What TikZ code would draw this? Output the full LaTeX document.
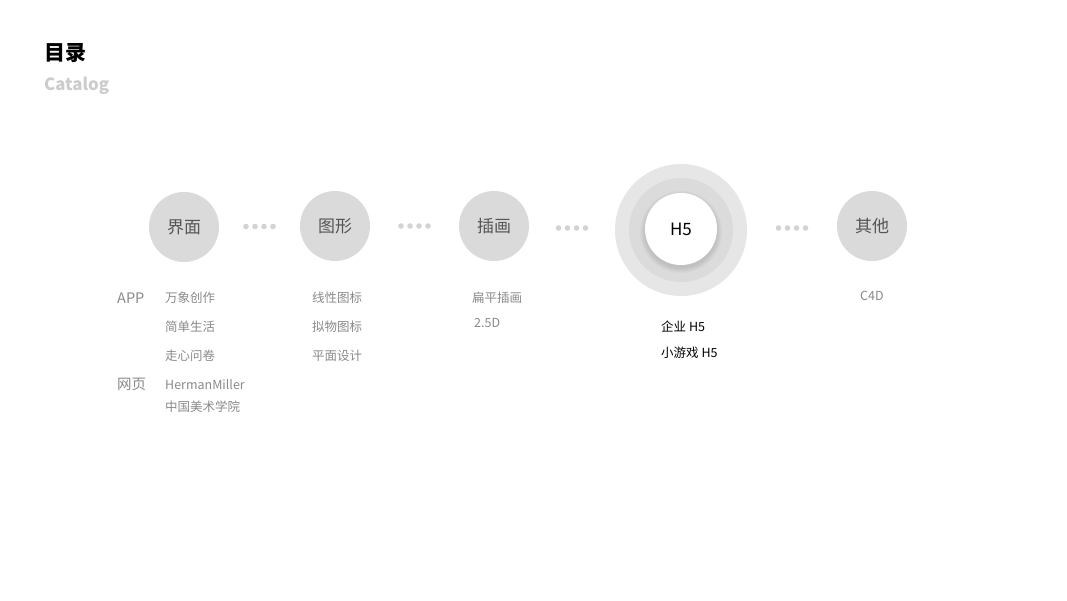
\documentclass[tikz,border=0pt]{standalone}
\usepackage{fontspec}
\setmainfont{Noto Sans CJK SC}
\usepackage{xcolor}
\usepackage{tikz}
\usetikzlibrary{calc}
\definecolor{CatDisc}{HTML}{DADADA}
\definecolor{CatRing}{HTML}{E6E6E6}
\definecolor{CatMid}{HTML}{DBDBDB}
\definecolor{CatDot}{HTML}{D3D3D3}
\definecolor{CatText}{HTML}{555555}
\definecolor{CatItem}{HTML}{8A8A8A}
\definecolor{CatSub}{HTML}{CCCCCC}

\begin{document}
\begin{tikzpicture}[x=1pt,y=-1pt,
  disc/.style={circle,fill=CatDisc,minimum size=70pt,inner sep=0pt,text=CatText,font=\fontsize{17}{20}\selectfont},
  item/.style={anchor=west,inner sep=0pt,text=CatItem,font=\fontsize{12.5}{15}\selectfont},
  kind/.style={anchor=west,inner sep=0pt,text=CatItem,font=\fontsize{14.5}{17}\selectfont},
  hitem/.style={anchor=west,inner sep=0pt,text=black,font=\fontsize{12.5}{15}\selectfont}]
\path[use as bounding box] (0,0) rectangle (1067,600);
\fill[white] (0,0) rectangle (1067,600);
\node[anchor=west,inner sep=0pt,font=\fontsize{21}{24}\selectfont\bfseries] (title) at (44,53) {目录};
\node[anchor=west,inner sep=0pt,text=CatSub,font=\fontsize{16.8}{20}\selectfont\bfseries] (subtitle) at (44,86) {Catalog};
\node[disc] (ui) at (184,227) {界面};
\node[disc] (icon) at (335,226) {图形};
\node[disc] (illu) at (494,226) {插画};
\node[circle,fill=CatRing,minimum size=132pt,inner sep=0pt] (ring) at (681,230) {};
\fill[CatMid] (ring.center) circle (52);
\foreach \k in {1,...,6}
  \fill[black,opacity=0.02] ($(ring.center)+(0,2)$) circle (35+\k);
\node[circle,fill=white,minimum size=72pt,inner sep=0pt,font=\fontsize{17}{20}\selectfont] (h5) at (681,229) {H5};
\node[disc] (misc) at (872,226) {其他};
\foreach \a/\b in {ui/icon,icon/illu,illu/ring,ring/misc}
  \foreach \i in {-1.5,-0.5,0.5,1.5}
    \fill[CatDot] ($(\a.east)!0.5!(\b.west)+(\i*9,0)$) circle (2.8);
\node[kind] (app) at (117,298) {APP};
\node[kind] (web) at (117,384) {网页};
\node[item] (ui1) at (165,298) {万象创作};
\node[item] (ui2) at (165,327) {简单生活};
\node[item] (ui3) at (165,356) {走心问卷};
\node[item] (ui4) at (165,385) {HermanMiller};
\node[item] (ui5) at (165,407) {中国美术学院};
\node[item] (icon1) at (312,298) {线性图标};
\node[item] (icon2) at (312,327) {拟物图标};
\node[item] (icon3) at (312,356) {平面设计};
\node[item] (illu1) at (472,298) {扁平插画};
\node[item] (illu2) at (474,323) {2.5D};
\node[hitem] (h51) at (661,327) {企业 H5};
\node[hitem] (h52) at (661,353) {小游戏 H5};
\node[item] (misc1) at (860,296) {C4D};
\end{tikzpicture}
\end{document}
